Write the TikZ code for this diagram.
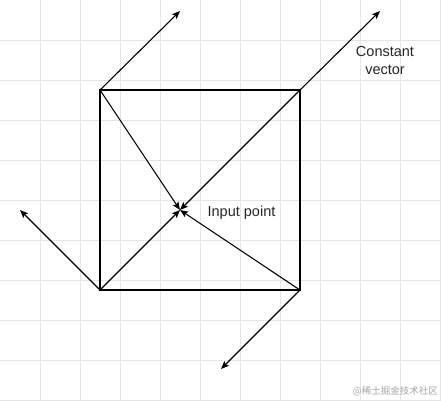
\documentclass[tikz,border=0pt]{standalone}
\usepackage{fontspec}
\setmainfont{Liberation Sans}
\newfontfamily\cjk{Noto Sans CJK SC}
\usetikzlibrary{arrows.meta,positioning}
\tikzset{
  vec/.style={-{Stealth[length=8pt,width=6.5pt,inset=1.5pt]}, line width=1.1pt, black},
  edge/.style={draw=black, line width=1.1pt},
  gridline/.style={draw=black!10, line width=0.6pt},
  note/.style={font=\fontsize{14.5}{18}\selectfont, align=center, text=black!85},
  wmark/.style={font=\cjk\fontsize{9.5}{11}\selectfont, text=black!35, inner sep=0pt}
}
\begin{document}
\begin{tikzpicture}[x=1pt,y=-1pt]
  \useasboundingbox[fill=white] (0,0) rectangle (441,400);
  % background grid
  \foreach \g in {40,80,...,440}{
    \draw[gridline] (\g,0)--(\g,400);
  }
  \foreach \g in {40,80,...,400}{
    \draw[gridline] (0,\g)--(441,\g);
  }
  % square corners and the input point
  \coordinate (tl) at (100,90);
  \coordinate (tr) at (300,90);
  \coordinate (bl) at (100,290);
  \coordinate (br) at (300,290);
  \coordinate (in) at (180,210);
  % constant vectors at the corners
  \coordinate (tlv) at (180,11);
  \coordinate (trv) at (380,11);
  \coordinate (blv) at (20,210);
  \coordinate (brv) at (221,369);
  \draw[edge] (tl) rectangle (br);
  \foreach \c in {tl,tr,bl,br}{
    \draw[vec] (\c)--(in);
    \draw[vec] (\c)--(\c v);
  }
  \node[note, anchor=base] (inlabel) at (241.5,216) {Input point};
  \node[note] (cvlabel) at (385,61) {Constant\\vector};
  \node[wmark, anchor=east] (wm) at (438,391) {@稀土掘金技术社区};
\end{tikzpicture}
\end{document}
